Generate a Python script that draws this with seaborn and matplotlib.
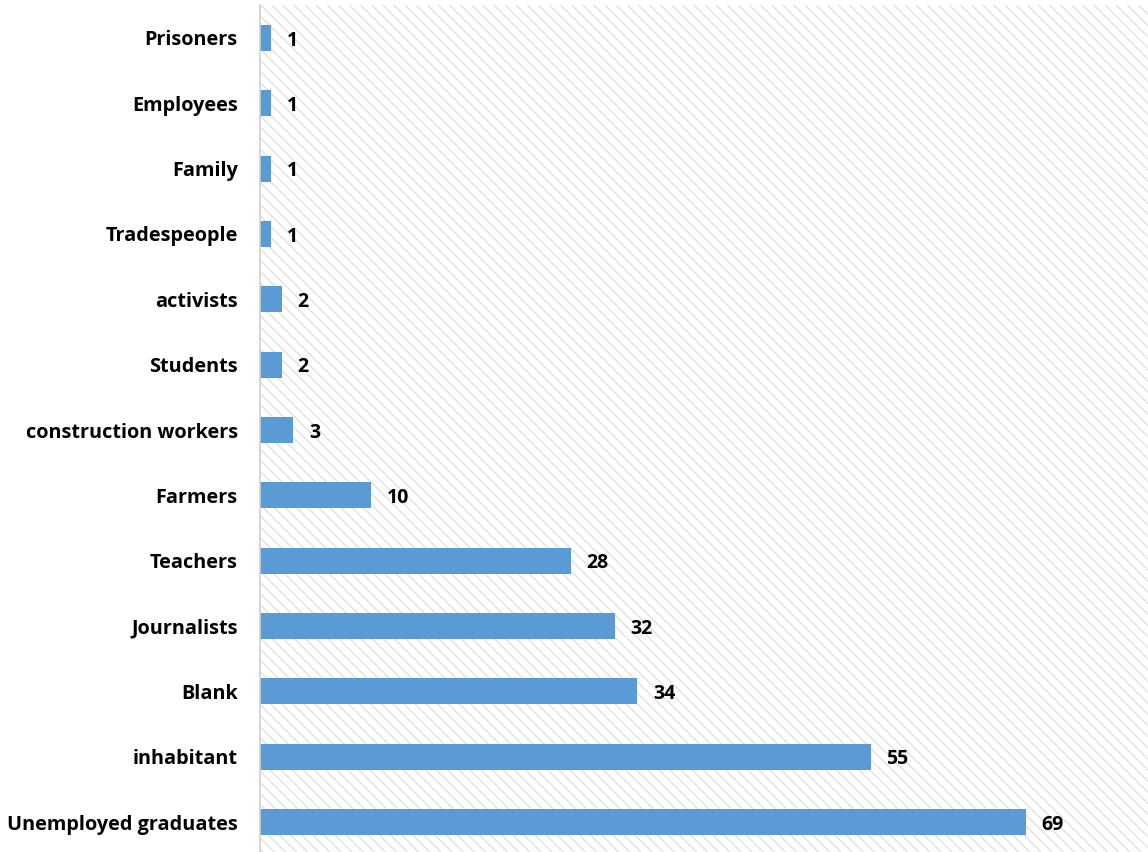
import matplotlib
matplotlib.use("Agg")
import matplotlib.pyplot as plt
import seaborn as sns
import pandas as pd

categories = ["Prisoners", "Employees", "Family", "Tradespeople", "activists",
              "Students", "construction workers", "Farmers", "Teachers",
              "Journalists", "Blank", "inhabitant", "Unemployed graduates"]
counts = [1, 1, 1, 1, 2, 2, 3, 10, 28, 32, 34, 55, 69]

df = pd.DataFrame({"category": categories, "count": counts})

sns.set_theme(style="white")
plt.rcParams["font.family"] = ["Open Sans", "DejaVu Sans"]
plt.rcParams["hatch.color"] = "#dedede"
plt.rcParams["hatch.linewidth"] = 0.9

fig = plt.figure(figsize=(11.48, 8.52), dpi=100)
ax = fig.add_axes([0.2265, -0.0032, 0.7735, 0.997])

# hatched plot background
ax.patch.set_facecolor("white")
ax.patch.set_hatch("\\\\\\")
ax.patch.set_edgecolor("#dedede")

sns.barplot(data=df, y="category", x="count", color="#5b9bd5", saturation=1,
            width=0.4, orient="h", ax=ax, edgecolor="none")

for i, v in enumerate(counts):
    ax.text(v + 1.4, i + 0.04, str(v), va="center", ha="left", fontsize=14,
            fontweight="bold", color="black")

ax.set_xlim(0, 80)
ax.set_ylim(len(categories) - 0.5, -0.5)
ax.set_xlabel("")
ax.set_ylabel("")
ax.set_xticks([])
ax.tick_params(axis="y", length=0, pad=16)
for lab in ax.get_yticklabels():
    lab.set_fontweight("bold")
    lab.set_fontsize(14.3)
    lab.set_color("black")
for s in ["top", "right", "bottom"]:
    ax.spines[s].set_visible(False)
ax.spines["left"].set_color("#d0d0d0")
ax.spines["left"].set_linewidth(1.2)

fig.savefig("out.png", dpi=100)
